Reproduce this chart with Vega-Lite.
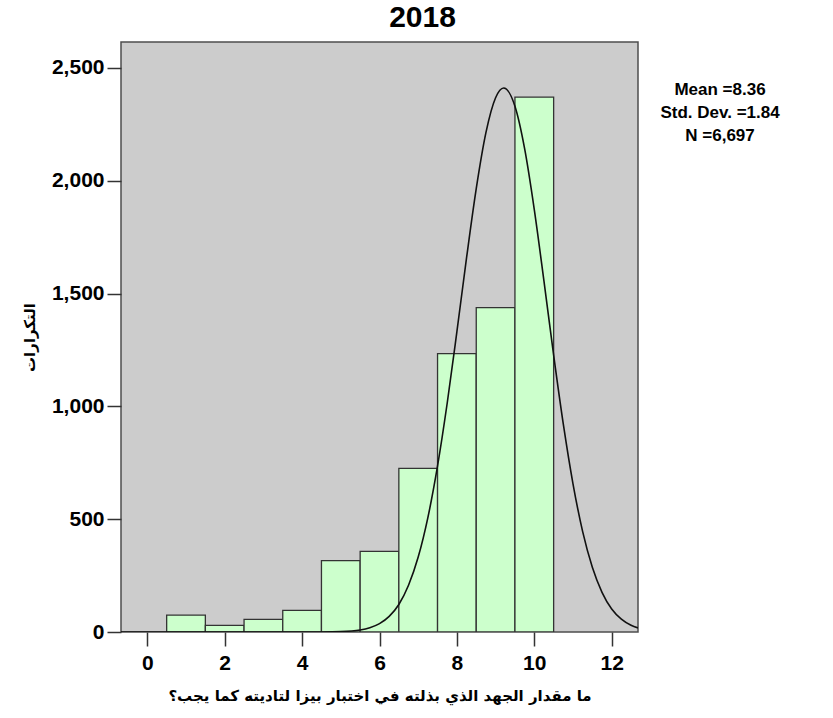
{
  "$schema": "https://vega.github.io/schema/vega-lite/v6.json",
  "autosize": "none",
  "width": 517,
  "height": 590,
  "padding": {"left": 121, "top": 42, "right": 195, "bottom": 86},
  "background": "white",
  "config": {
    "font": "Liberation Sans",
    "view": {"fill": "#cccccc", "stroke": "#4d4d4d", "strokeWidth": 1.5},
    "axis": {
      "grid": false,
      "domain": false,
      "labelFont": "Liberation Sans",
      "labelFontSize": 21,
      "labelFontWeight": "bold",
      "labelColor": "#000000",
      "tickColor": "#333333",
      "tickWidth": 1.5,
      "tickSize": 14,
      "titleFont": "DejaVu Sans",
      "titleFontSize": 15,
      "titleFontWeight": "bold",
      "titleColor": "#000000"
    }
  },
  "title": {
    "text": "2018",
    "font": "Liberation Sans",
    "fontSize": 30,
    "fontWeight": "bold",
    "color": "#000000",
    "anchor": "middle",
    "dx": 43,
    "offset": 9
  },
  "datasets": {
    "bars": [
      {"score": 1, "lo": 0.5, "hi": 1.5, "count": 75},
      {"score": 2, "lo": 1.5, "hi": 2.5, "count": 29},
      {"score": 3, "lo": 2.5, "hi": 3.5, "count": 56},
      {"score": 4, "lo": 3.5, "hi": 4.5, "count": 96},
      {"score": 5, "lo": 4.5, "hi": 5.5, "count": 316},
      {"score": 6, "lo": 5.5, "hi": 6.5, "count": 357},
      {"score": 7, "lo": 6.5, "hi": 7.5, "count": 725},
      {"score": 8, "lo": 7.5, "hi": 8.5, "count": 1234},
      {"score": 9, "lo": 8.5, "hi": 9.5, "count": 1438},
      {"score": 10, "lo": 9.5, "hi": 10.5, "count": 2371}
    ],
    "curve": [
      {"cx": -0.68, "cy": 0},
      {"cx": 2.0, "cy": 0},
      {"cx": 4.0, "cy": 0},
      {"cx": 4.5, "cy": 0.3},
      {"cx": 5.0, "cy": 1.8},
      {"cx": 5.5, "cy": 9},
      {"cx": 5.75, "cy": 19},
      {"cx": 6.0, "cy": 37},
      {"cx": 6.25, "cy": 69},
      {"cx": 6.5, "cy": 122},
      {"cx": 6.75, "cy": 207},
      {"cx": 7.0, "cy": 332},
      {"cx": 7.25, "cy": 507},
      {"cx": 7.5, "cy": 736},
      {"cx": 7.75, "cy": 1015},
      {"cx": 8.0, "cy": 1331},
      {"cx": 8.25, "cy": 1659},
      {"cx": 8.5, "cy": 1965},
      {"cx": 8.75, "cy": 2213},
      {"cx": 9.0, "cy": 2368},
      {"cx": 9.21, "cy": 2411},
      {"cx": 9.5, "cy": 2330},
      {"cx": 9.75, "cy": 2142},
      {"cx": 10.0, "cy": 1872},
      {"cx": 10.25, "cy": 1555},
      {"cx": 10.5, "cy": 1227},
      {"cx": 10.75, "cy": 921},
      {"cx": 11.0, "cy": 657},
      {"cx": 11.25, "cy": 445},
      {"cx": 11.5, "cy": 287},
      {"cx": 11.75, "cy": 176},
      {"cx": 12.0, "cy": 102},
      {"cx": 12.25, "cy": 57},
      {"cx": 12.5, "cy": 30},
      {"cx": 12.68, "cy": 18}
    ],
    "stats": [
      {"tx": 14.8, "ty": 2404, "label": "Mean =8.36"},
      {"tx": 14.8, "ty": 2302, "label": "Std. Dev. =1.84"},
      {"tx": 14.8, "ty": 2200, "label": "N =6,697"}
    ]
  },
  "layer": [
    {
      "data": {"name": "bars"},
      "mark": {"type": "bar", "fill": "#ccffcc", "stroke": "#333333", "strokeWidth": 1.3, "clip": true},
      "encoding": {
        "x": {
          "field": "lo",
          "type": "quantitative",
          "scale": {"domain": [-0.68, 12.68], "nice": false, "zero": false},
          "axis": {
            "values": [0, 2, 4, 6, 8, 10, 12],
            "title": "ما مقدار الجهد الذي بذلته في اختبار بيزا لتاديته كما يجب؟",
            "labelPadding": 6,
            "titlePadding": 15
          }
        },
        "x2": {"field": "hi"},
        "y": {
          "field": "count",
          "type": "quantitative",
          "scale": {"domain": [0, 2615], "nice": false},
          "axis": {
            "values": [0, 500, 1000, 1500, 2000, 2500],
            "format": ",d",
            "title": "التكرارات",
            "labelPadding": 3,
            "titlePadding": 14
          }
        },
        "y2": {"datum": 0}
      }
    },
    {
      "data": {"name": "curve"},
      "mark": {"type": "line", "color": "#111111", "strokeWidth": 1.6, "interpolate": "monotone", "clip": true},
      "encoding": {
        "x": {"field": "cx", "type": "quantitative"},
        "y": {"field": "cy", "type": "quantitative"}
      }
    },
    {
      "data": {"name": "stats"},
      "mark": {"type": "text", "font": "Liberation Sans", "fontSize": 17, "fontWeight": "bold", "color": "#000000", "align": "center", "baseline": "middle"},
      "encoding": {
        "x": {"field": "tx", "type": "quantitative"},
        "y": {"field": "ty", "type": "quantitative"},
        "text": {"field": "label"}
      }
    }
  ]
}
